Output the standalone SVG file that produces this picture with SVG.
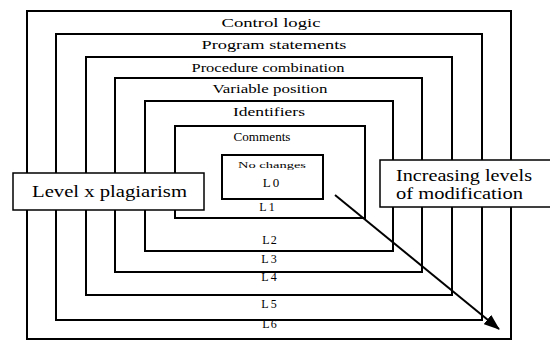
<svg xmlns="http://www.w3.org/2000/svg" width="550" height="341" viewBox="0 0 550 341">
<style>
.lv{fill:none;stroke:#000;stroke-width:2}
.box{fill:#fff;stroke:#000;stroke-width:1.5}
.t{font-size:12px;text-anchor:middle}
.b{font-size:16px}
</style>
<defs>
<marker id="ah" markerWidth="16" markerHeight="12" refX="15" refY="6" orient="auto" markerUnits="userSpaceOnUse" viewBox="0 0 16 12">
<path d="M0,0 L16,6 L0,12 Z" fill="#000"/>
</marker>
</defs>
<g id="levels">
<rect id="L6" class="lv" x="27" y="11" width="484" height="328"/>
<rect id="L5" class="lv" x="56" y="34" width="426" height="286"/>
<rect id="L4" class="lv" x="86" y="57" width="366" height="238"/>
<rect id="L3" class="lv" x="115" y="78" width="307" height="194"/>
<rect id="L2" class="lv" x="145" y="101" width="248" height="150"/>
<rect id="L1" class="lv" x="175" y="126" width="190" height="92"/>
</g>
<g font-family="'Liberation Serif', 'DejaVu Serif', serif" fill="#000">
<g id="L0box">
<rect class="lv" x="222" y="155" width="101" height="44"/>
<text x="272" y="168" font-size="9" text-anchor="middle" textLength="68" lengthAdjust="spacingAndGlyphs">No changes</text>
<text x="272" y="187" font-size="13" text-anchor="middle" letter-spacing="2">L0</text>
</g>
<g id="toplabels">
<text class="t" x="271" y="27" textLength="99" lengthAdjust="spacingAndGlyphs">Control logic</text>
<text class="t" x="274" y="49" textLength="145" lengthAdjust="spacingAndGlyphs">Program statements</text>
<text class="t" x="268" y="72" textLength="153" lengthAdjust="spacingAndGlyphs">Procedure combination</text>
<text class="t" x="270" y="93" textLength="115" lengthAdjust="spacingAndGlyphs">Variable position</text>
<text class="t" x="269" y="116" textLength="72" lengthAdjust="spacingAndGlyphs">Identifiers</text>
<text class="t" x="262" y="141" textLength="57" lengthAdjust="spacingAndGlyphs">Comments</text>
</g>
<g id="botlabels">
<text class="t" x="268" y="211" letter-spacing="2">L1</text>
<text class="t" x="270" y="244" letter-spacing="1">L2</text>
<text class="t" x="270" y="263" letter-spacing="2">L3</text>
<text class="t" x="270" y="281" letter-spacing="2">L4</text>
<text class="t" x="270" y="308" letter-spacing="2">L5</text>
<text class="t" x="270" y="328" letter-spacing="1">L6</text>
</g>
<g id="levelbox">
<rect class="box" x="13" y="173" width="191" height="37"/>
<text class="b" x="32" y="197" font-size="17" textLength="155" lengthAdjust="spacingAndGlyphs">Level x plagiarism</text>
</g>
<g id="incbox">
<rect class="box" x="380" y="160" width="180" height="47"/>
<text class="b" x="396" y="181" textLength="136" lengthAdjust="spacingAndGlyphs">Increasing levels</text>
<text class="b" x="396" y="199" textLength="127" lengthAdjust="spacingAndGlyphs">of modification</text>
</g>
</g>
<g id="connectors">
<line x1="335" y1="195" x2="499" y2="329" stroke="#000" stroke-width="2" marker-end="url(#ah)"/>
</g>
</svg>
